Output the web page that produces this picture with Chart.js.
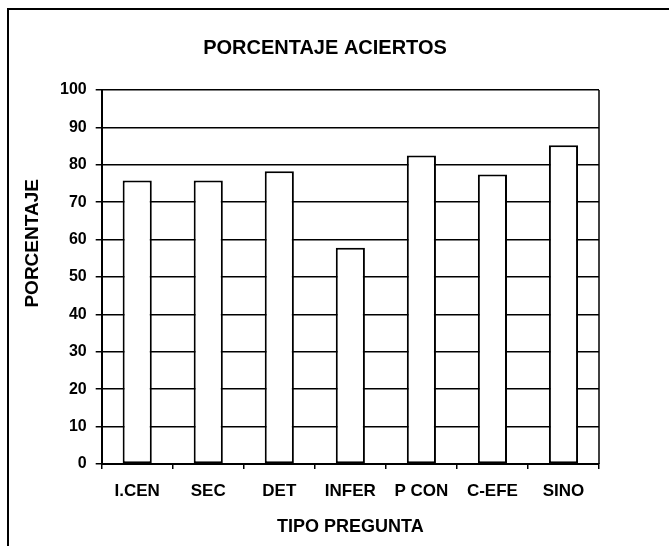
<!DOCTYPE html>
<html><head><meta charset="utf-8">
<script src="https://cdn.jsdelivr.net/npm/chart.js@4"></script>
<style>
html,body{margin:0;padding:0;background:#fff;overflow:hidden;}
#wrap{position:relative;width:669px;height:546px;overflow:hidden;background:#fff;}
#frame{position:absolute;left:7px;top:8px;width:700px;height:600px;border-top:2px solid #000;border-left:2px solid #000;pointer-events:none;}
canvas{position:absolute;left:0;top:0;}
</style></head>
<body><div id="wrap"><canvas id="c" width="669" height="546"></canvas><div id="frame"></div></div>
<script>
const chartTitle = 'PORCENTAJE ACIERTOS';
const xAxisTitle = 'TIPO PREGUNTA';
const yAxisTitle = 'PORCENTAJE';
const categories = ['I.CEN', 'SEC', 'DET', 'INFER', 'P CON', 'C-EFE', 'SINO'];
const porcentaje = [75.8, 75.8, 78.3, 57.8, 82.5, 77.4, 85.2];
const yMin = 0, yMax = 100, yStep = 10;

const FONT = '"Liberation Sans", Arial, sans-serif';

const frameAndTitlePlugin = {
  id: 'frameAndTitle',
  afterDatasetsDraw(chart) {
    const a = chart.chartArea, ctx = chart.ctx;
    ctx.save();
    ctx.strokeStyle = '#000';
    ctx.lineWidth = 1.5;
    ctx.beginPath();
    ctx.moveTo(a.right, a.top);
    ctx.lineTo(a.right, a.bottom);
    ctx.stroke();
    ctx.restore();
  },
  afterDraw(chart) {
    const a = chart.chartArea, ctx = chart.ctx;
    ctx.save();
    ctx.translate(33, a.top + (a.bottom - a.top) * 0.41);
    ctx.rotate(-Math.PI / 2);
    ctx.font = 'bold 19px ' + FONT;
    ctx.textAlign = 'center';
    ctx.textBaseline = 'middle';
    ctx.fillStyle = '#000';
    ctx.fillText(yAxisTitle, 0, 0);
    ctx.restore();
  }
};

new Chart(document.getElementById('c'), {
  type: 'bar',
  data: {
    labels: categories,
    datasets: [{
      data: porcentaje,
      backgroundColor: '#fff',
      borderColor: '#000',
      borderWidth: 2,
      borderSkipped: false,
      barPercentage: 0.41,
      categoryPercentage: 1
    }]
  },
  options: {
    responsive: false,
    animation: false,
    events: [],
    layout: { padding: { left: 51, right: 70, top: 0, bottom: 8 } },
    plugins: {
      legend: { display: false },
      tooltip: { enabled: false },
      title: {
        display: true,
        text: chartTitle,
        color: '#000',
        font: { family: FONT, size: 20, weight: 'bold' },
        padding: { top: 36, bottom: 30 }
      }
    },
    scales: {
      x: {
        grid: { display: true, offset: true, drawOnChartArea: false, drawTicks: true, tickLength: 5, color: '#000', lineWidth: 1.5 },
        border: { display: true, color: '#000', width: 2 },
        ticks: { color: '#000', font: { family: FONT, size: 17, weight: 'bold' }, padding: 12, maxRotation: 0, autoSkip: false },
        title: { display: true, text: xAxisTitle, color: '#000', font: { family: FONT, size: 18, weight: 'bold' }, padding: { top: 3, bottom: 0 } }
      },
      y: {
        min: yMin, max: yMax,
        grid: { color: '#000', lineWidth: 1.5, drawTicks: true, tickLength: 6 },
        border: { display: true, color: '#000', width: 2 },
        ticks: { stepSize: yStep, color: '#000', font: { family: FONT, size: 16, weight: 'bold' }, padding: 9 }
      }
    }
  },
  plugins: [frameAndTitlePlugin]
});
</script>
</body></html>
